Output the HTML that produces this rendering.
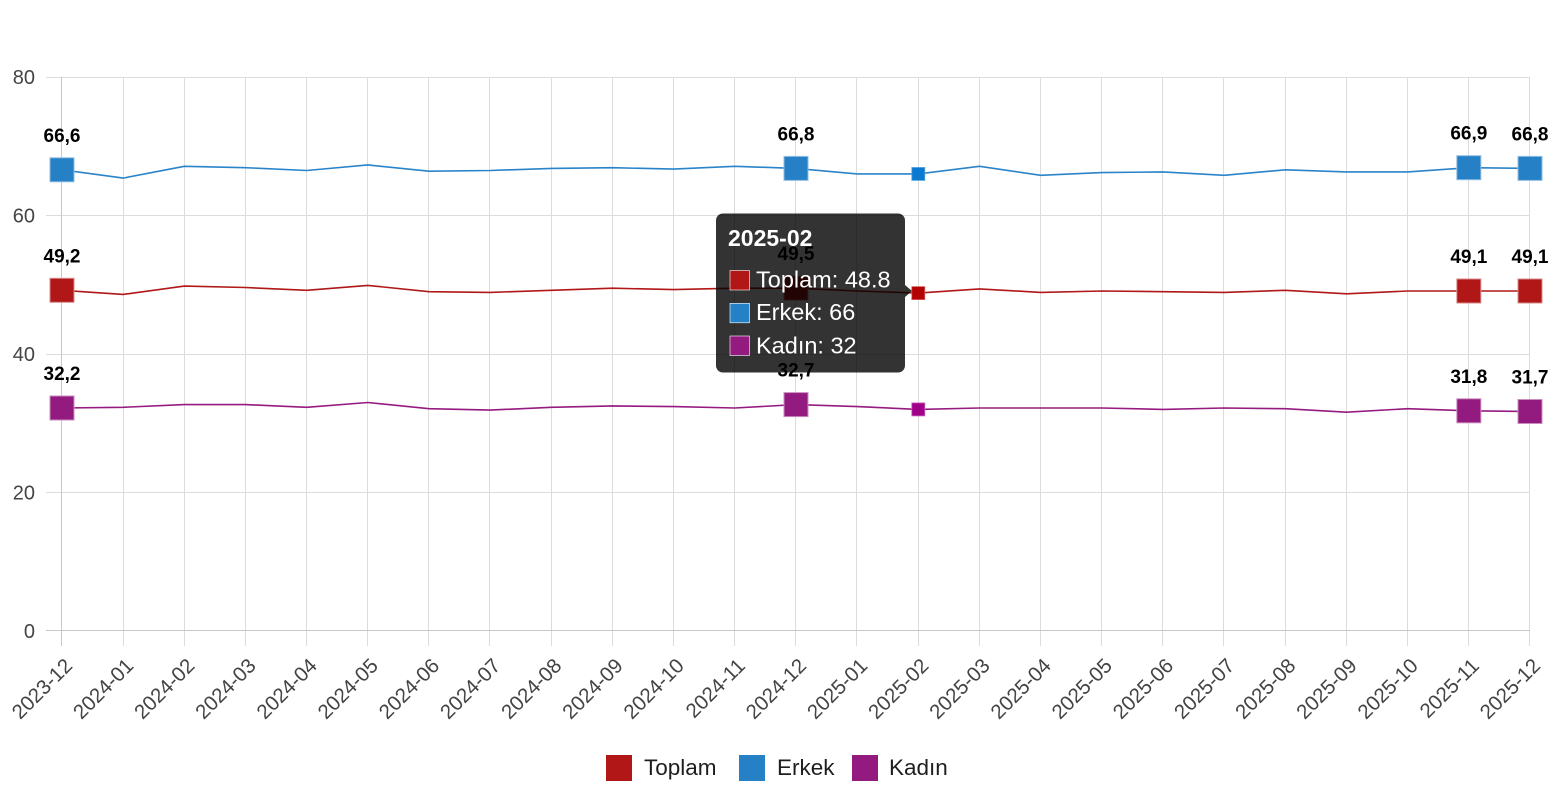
<!DOCTYPE html>
<html>
<head>
<meta charset="utf-8">
<style>
html,body{margin:0;padding:0;background:#fff;}
svg{display:block;}
.yl{font-family:"Liberation Sans",Arial,sans-serif;font-size:20px;fill:#444;text-anchor:end;}
.xl{font-family:"Liberation Sans",Arial,sans-serif;font-size:20.5px;fill:#444;text-anchor:end;}
.dl{font-family:"Liberation Sans",Arial,sans-serif;font-size:19px;font-weight:bold;fill:#000;text-anchor:middle;}
.lg{font-family:"Liberation Sans",Arial,sans-serif;font-size:22.5px;fill:#1e1e1e;}
.tt{font-family:"Liberation Sans",Arial,sans-serif;font-size:23.5px;fill:#fff;}
.tth{font-family:"Liberation Sans",Arial,sans-serif;font-size:23px;font-weight:bold;fill:#fff;}
</style>
</head>
<body>
<svg width="1556" height="800" viewBox="0 0 1556 800" xmlns="http://www.w3.org/2000/svg">
<rect width="1556" height="800" fill="#fff"/>
<!-- grid -->
<g stroke="#dcdcdc" stroke-width="1" shape-rendering="crispEdges">
<line x1="46" y1="77.5" x2="1530" y2="77.5"/>
<line x1="46" y1="215.5" x2="1530" y2="215.5"/>
<line x1="46" y1="354.5" x2="1530" y2="354.5"/>
<line x1="46" y1="492.5" x2="1530" y2="492.5"/>
<line x1="123.5" y1="77" x2="123.5" y2="646"/>
<line x1="184.5" y1="77" x2="184.5" y2="646"/>
<line x1="245.5" y1="77" x2="245.5" y2="646"/>
<line x1="306.5" y1="77" x2="306.5" y2="646"/>
<line x1="367.5" y1="77" x2="367.5" y2="646"/>
<line x1="428.5" y1="77" x2="428.5" y2="646"/>
<line x1="489.5" y1="77" x2="489.5" y2="646"/>
<line x1="551.5" y1="77" x2="551.5" y2="646"/>
<line x1="612.5" y1="77" x2="612.5" y2="646"/>
<line x1="673.5" y1="77" x2="673.5" y2="646"/>
<line x1="734.5" y1="77" x2="734.5" y2="646"/>
<line x1="795.5" y1="77" x2="795.5" y2="646"/>
<line x1="856.5" y1="77" x2="856.5" y2="646"/>
<line x1="918.5" y1="77" x2="918.5" y2="646"/>
<line x1="979.5" y1="77" x2="979.5" y2="646"/>
<line x1="1040.5" y1="77" x2="1040.5" y2="646"/>
<line x1="1101.5" y1="77" x2="1101.5" y2="646"/>
<line x1="1162.5" y1="77" x2="1162.5" y2="646"/>
<line x1="1223.5" y1="77" x2="1223.5" y2="646"/>
<line x1="1285.5" y1="77" x2="1285.5" y2="646"/>
<line x1="1346.5" y1="77" x2="1346.5" y2="646"/>
<line x1="1407.5" y1="77" x2="1407.5" y2="646"/>
<line x1="1468.5" y1="77" x2="1468.5" y2="646"/>
<line x1="1529.5" y1="77" x2="1529.5" y2="646"/>
</g>
<g stroke="#c8c8c8" stroke-width="1" shape-rendering="crispEdges">
<line x1="61.5" y1="77" x2="61.5" y2="646"/>
<line x1="46" y1="630.5" x2="1530" y2="630.5"/>
</g>
<!-- y labels -->
<text class="yl" x="35" y="84">80</text>
<text class="yl" x="35" y="222.5">60</text>
<text class="yl" x="35" y="361">40</text>
<text class="yl" x="35" y="499.5">20</text>
<text class="yl" x="35" y="638">0</text>
<!-- x labels -->
<text class="xl" transform="translate(73.5,667) rotate(-45)">2023-12</text>
<text class="xl" transform="translate(134.7,667) rotate(-45)">2024-01</text>
<text class="xl" transform="translate(195.8,667) rotate(-45)">2024-02</text>
<text class="xl" transform="translate(257,667) rotate(-45)">2024-03</text>
<text class="xl" transform="translate(318.2,667) rotate(-45)">2024-04</text>
<text class="xl" transform="translate(379.3,667) rotate(-45)">2024-05</text>
<text class="xl" transform="translate(440.5,667) rotate(-45)">2024-06</text>
<text class="xl" transform="translate(501.7,667) rotate(-45)">2024-07</text>
<text class="xl" transform="translate(562.8,667) rotate(-45)">2024-08</text>
<text class="xl" transform="translate(624,667) rotate(-45)">2024-09</text>
<text class="xl" transform="translate(685.2,667) rotate(-45)">2024-10</text>
<text class="xl" transform="translate(746.3,667) rotate(-45)">2024-11</text>
<text class="xl" transform="translate(807.5,667) rotate(-45)">2024-12</text>
<text class="xl" transform="translate(868.7,667) rotate(-45)">2025-01</text>
<text class="xl" transform="translate(929.8,667) rotate(-45)">2025-02</text>
<text class="xl" transform="translate(991,667) rotate(-45)">2025-03</text>
<text class="xl" transform="translate(1052.2,667) rotate(-45)">2025-04</text>
<text class="xl" transform="translate(1113.3,667) rotate(-45)">2025-05</text>
<text class="xl" transform="translate(1174.5,667) rotate(-45)">2025-06</text>
<text class="xl" transform="translate(1235.7,667) rotate(-45)">2025-07</text>
<text class="xl" transform="translate(1296.8,667) rotate(-45)">2025-08</text>
<text class="xl" transform="translate(1358,667) rotate(-45)">2025-09</text>
<text class="xl" transform="translate(1419.2,667) rotate(-45)">2025-10</text>
<text class="xl" transform="translate(1480.3,667) rotate(-45)">2025-11</text>
<text class="xl" transform="translate(1541.5,667) rotate(-45)">2025-12</text>
<!-- series lines -->
<polyline fill="none" stroke="#2a84c9" stroke-width="1.6" stroke-linejoin="round" points="62,169.8 123.17,178.1 184.33,166.3 245.5,167.7 306.67,170.5 367.83,164.95 429,171.2 490.17,170.5 551.33,168.4 612.5,167.7 673.67,169.1 734.83,166.3 796,168.4 857.17,173.95 918.33,173.95 979.5,166.3 1040.67,175.3 1101.83,172.6 1163,171.9 1224.17,175.3 1285.33,169.8 1346.5,171.9 1407.67,171.9 1468.83,167.7 1530,168.4"/>
<polyline fill="none" stroke="#b11818" stroke-width="1.6" stroke-linejoin="round" points="62,290.3 123.17,294.4 184.33,286.1 245.5,287.5 306.67,290.3 367.83,285.4 429,291.7 490.17,292.4 551.33,290.3 612.5,288.2 673.67,289.6 734.83,288.2 796,288.2 857.17,291 918.33,293.1 979.5,288.9 1040.67,292.4 1101.83,291 1163,291.7 1224.17,292.4 1285.33,290.3 1346.5,293.8 1407.67,291 1468.83,291 1530,291"/>
<polyline fill="none" stroke="#951b80" stroke-width="1.6" stroke-linejoin="round" points="62,408 123.17,407.3 184.33,404.6 245.5,404.6 306.67,407.3 367.83,402.5 429,408.7 490.17,410.1 551.33,407.3 612.5,405.9 673.67,406.6 734.83,408 796,404.6 857.17,406.6 918.33,409.4 979.5,408 1040.67,408 1101.83,408 1163,409.4 1224.17,408 1285.33,408.7 1346.5,412.2 1407.67,408.7 1468.83,410.8 1530,411.5"/>
<!-- big markers -->
<g stroke-width="1">
<rect x="50" y="157.8" width="24" height="24" fill="#2680c6" stroke="#8dbde3"/>
<rect x="784" y="156.4" width="24" height="24" fill="#2680c6" stroke="#8dbde3"/>
<rect x="1456.83" y="155.7" width="24" height="24" fill="#2680c6" stroke="#8dbde3"/>
<rect x="1518" y="156.4" width="24" height="24" fill="#2680c6" stroke="#8dbde3"/>
<rect x="50" y="278.3" width="24" height="24" fill="#b11717" stroke="#d88b8b"/>
<rect x="784" y="276.2" width="24" height="24" fill="#b11717" stroke="#d88b8b"/>
<rect x="1456.83" y="279" width="24" height="24" fill="#b11717" stroke="#d88b8b"/>
<rect x="1518" y="279" width="24" height="24" fill="#b11717" stroke="#d88b8b"/>
<rect x="50" y="396" width="24" height="24" fill="#931a7e" stroke="#c98cbe"/>
<rect x="784" y="392.6" width="24" height="24" fill="#931a7e" stroke="#c98cbe"/>
<rect x="1456.83" y="398.8" width="24" height="24" fill="#931a7e" stroke="#c98cbe"/>
<rect x="1518" y="399.5" width="24" height="24" fill="#931a7e" stroke="#c98cbe"/>
</g>
<!-- hovered small markers -->
<rect x="911.8" y="167.45" width="13" height="13" fill="#0a79d0" stroke="#5aa6e0" stroke-width="0.8"/>
<rect x="911.8" y="286.6" width="13" height="13" fill="#b30000" stroke="#d86060" stroke-width="0.8"/>
<rect x="911.8" y="402.9" width="13" height="13" fill="#a0008a" stroke="#cc60bb" stroke-width="0.8"/>
<!-- data labels -->
<text class="dl" x="62" y="141.8">66,6</text>
<text class="dl" x="796" y="140.4">66,8</text>
<text class="dl" x="1468.83" y="139.7">66,9</text>
<text class="dl" x="1530" y="140.4">66,8</text>
<text class="dl" x="62" y="262.3">49,2</text>
<text class="dl" x="796" y="260.2">49,5</text>
<text class="dl" x="1468.83" y="263">49,1</text>
<text class="dl" x="1530" y="263">49,1</text>
<text class="dl" x="62" y="380">32,2</text>
<text class="dl" x="796" y="376.6">32,7</text>
<text class="dl" x="1468.83" y="382.8">31,8</text>
<text class="dl" x="1530" y="383.5">31,7</text>
<!-- tooltip -->
<g fill="#000" fill-opacity="0.8">
<rect x="716" y="213.5" width="189" height="159" rx="7" ry="7"/>
<polygon points="905,285 912,291 905,297"/>
</g>
<text class="tth" x="728" y="246">2025-02</text>
<rect x="730" y="270.5" width="19.5" height="19.5" fill="#b11717" stroke="#fff" stroke-width="0.6"/>
<text class="tt" x="756" y="287.5">Toplam: 48.8</text>
<rect x="730" y="303.3" width="19.5" height="19.5" fill="#2680c6" stroke="#fff" stroke-width="0.6"/>
<text class="tt" x="756" y="320.2">Erkek: 66</text>
<rect x="730" y="336" width="19.5" height="19.5" fill="#931a7e" stroke="#fff" stroke-width="0.6"/>
<text class="tt" x="756" y="353.3">Kadın: 32</text>
<!-- legend -->
<rect x="606" y="755" width="26" height="26" fill="#b11717"/>
<text class="lg" x="644" y="775">Toplam</text>
<rect x="739" y="755" width="26" height="26" fill="#2680c6"/>
<text class="lg" x="777" y="775">Erkek</text>
<rect x="852" y="755" width="26" height="26" fill="#931a7e"/>
<text class="lg" x="889" y="775">Kadın</text>
</svg>
</body>
</html>
